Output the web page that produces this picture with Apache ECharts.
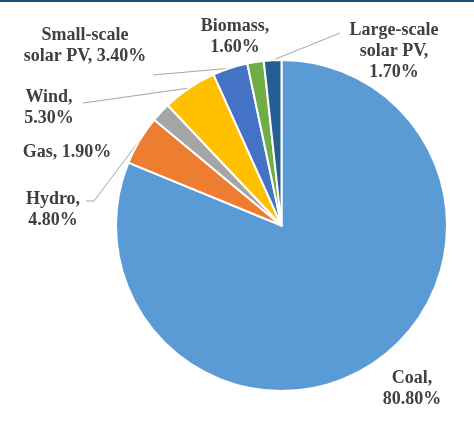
<!DOCTYPE html>
<html>
<head>
<meta charset="utf-8">
<script src="https://cdn.jsdelivr.net/npm/echarts@6/dist/echarts.min.js"></script>
<style>
  html, body { margin: 0; padding: 0; background: #ffffff; }
  #chart { width: 474px; height: 444px; }
</style>
</head>
<body>
<div id="chart"></div>
<script>
// Electricity generation mix (share of total, %)
const categories = ['Coal', 'Hydro', 'Gas', 'Wind', 'Small-scale\nsolar PV', 'Biomass', 'Large-scale\nsolar PV'];
const shares = [80.8, 4.8, 1.9, 5.3, 3.4, 1.6, 1.7];
// whether the value goes on its own line after the name
const breakAfterName = [true, true, false, true, false, true, true];
// slices whose label is joined to the pie by a leader line
const showLeader = [false, true, false, true, true, false, true];

const colors = ['#5B9BD5', '#ED7D31', '#A5A5A5', '#FFC000', '#4472C4', '#70AD47', '#255E91'];

// label placement: centre of the text block and the leader line end (px)
const labelPlace = [
  { x: 412, y: 389 },
  { x: 53, y: 210, lineEnd: [[94, 201], [86, 201]] },
  { x: 67, y: 152 },
  { x: 49, y: 108, lineEnd: [[83, 103]] },
  { x: 85, y: 46, lineEnd: [[153, 75]] },
  { x: 235, y: 37 },
  { x: 394, y: 51, lineEnd: [[340, 33]] }
];

const chart = echarts.init(document.getElementById('chart'), null, { renderer: 'canvas' });

const data = categories.map((name, i) => ({
  name: name,
  value: shares[i],
  itemStyle: { color: colors[i] },
  labelLine: { show: showLeader[i] }
}));

chart.setOption({
  animation: false,
  backgroundColor: '#ffffff',
  graphic: [{
    type: 'rect',
    shape: { x: 0, y: 0, width: 474, height: 2 },
    style: { fill: '#1F4E79' },
    silent: true
  }],
  series: [{
    type: 'pie',
    center: [281.5, 225.5],
    radius: 165.5,
    startAngle: 90,
    clockwise: true,
    avoidLabelOverlap: false,
    itemStyle: { borderColor: '#ffffff', borderWidth: 2 },
    label: {
      show: true,
      position: 'outside',
      fontFamily: 'Liberation Serif',
      fontWeight: 'bold',
      fontSize: 18,
      lineHeight: 21,
      color: '#404040',
      align: 'center',
      formatter: p => p.name + (breakAfterName[p.dataIndex] ? ',\n' : ', ') + p.value.toFixed(2) + '%'
    },
    labelLine: {
      show: true,
      length: 10,
      length2: 10,
      lineStyle: { color: '#A6A6A6', width: 1 }
    },
    labelLayout: function (params) {
      const place = labelPlace[params.dataIndex];
      const out = { x: place.x, y: place.y, align: 'center', verticalAlign: 'middle' };
      if (place.lineEnd && params.labelLinePoints) {
        out.labelLinePoints = [params.labelLinePoints[0]].concat(place.lineEnd);
      }
      return out;
    },
    data: data
  }]
});
</script>
</body>
</html>
